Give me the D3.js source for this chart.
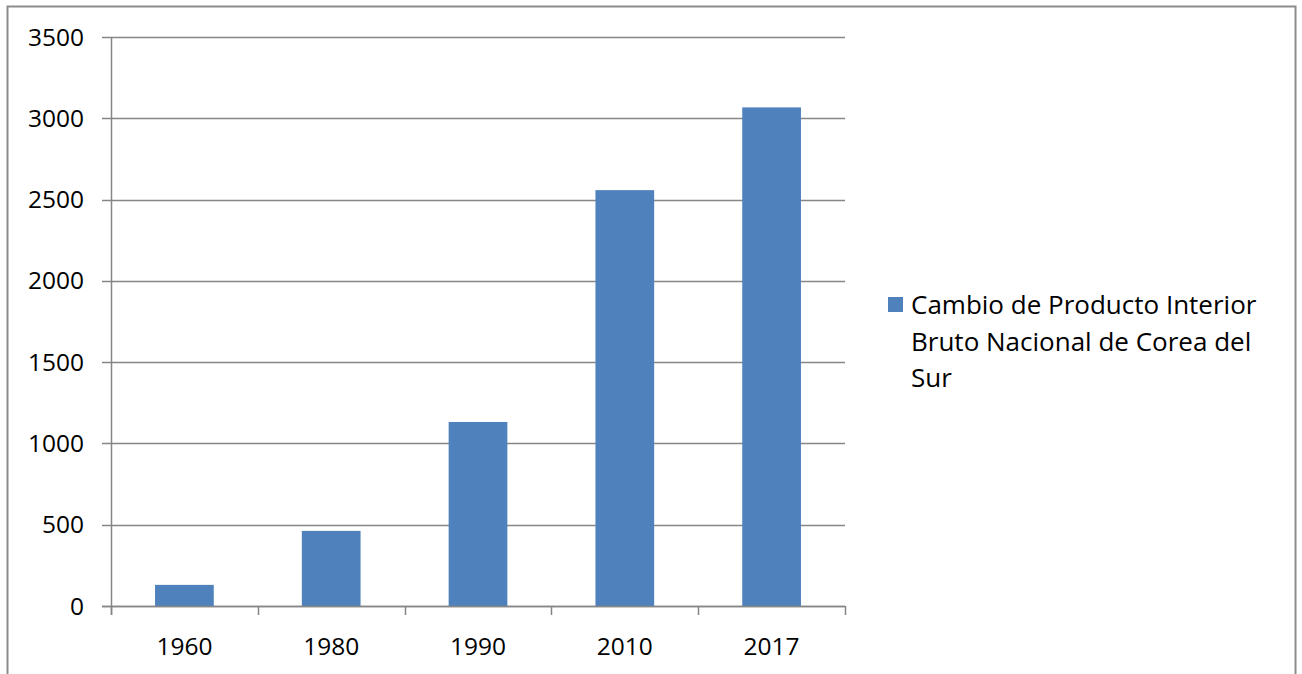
<!DOCTYPE html>
<html>
<head>
<meta charset="utf-8">
<script src="https://cdn.jsdelivr.net/npm/d3@7"></script>
<style>
  body { margin: 0; background: #fff; }
  text { font-family: "Open Sans", "Noto Sans CJK KR", sans-serif; fill: #000; }
</style>
</head>
<body>
<div id="chart"></div>
<script>
// datos
const years = ["1960", "1980", "1990", "2010", "2017"];
const gdp = [130, 462, 1132, 2558, 3067];
const yTicks = [0, 500, 1000, 1500, 2000, 2500, 3000, 3500];
const seriesName = ["Cambio de Producto Interior", "Bruto Nacional de Corea del", "Sur"];

const width = 1302;
const height = 674;

const svg = d3.select("#chart")
              .append("svg")
              .attr("width", width)
              .attr("height", height);

// marco
svg.append("rect")
   .attr("x", 7.5).attr("y", 6.5)
   .attr("width", 1288).attr("height", 700)
   .attr("fill", "none")
   .attr("stroke", "#8c8c8c")
   .attr("stroke-width", 2);

const x = d3.scaleBand()
            .domain(years)
            .range([111, 845])
            .paddingInner(0.6)
            .paddingOuter(0.3);

const y = d3.scaleLinear()
            .domain([0, 3500])
            .range([606, 37]);

// rejilla
svg.append("g")
   .selectAll("line")
   .data(yTicks)
   .join("line")
   .attr("x1", 102).attr("x2", 845)
   .attr("y1", d => Math.round(y(d)) + 0.5)
   .attr("y2", d => Math.round(y(d)) + 0.5)
   .attr("stroke", "#868686")
   .attr("stroke-width", 1.5);

svg.append("g")
   .selectAll("text")
   .data(yTicks)
   .join("text")
   .attr("x", 84)
   .attr("y", d => y(d))
   .attr("dy", "0.35em")
   .attr("text-anchor", "end")
   .attr("font-size", 24.5)
   .text(d => d);

// barras
svg.append("g")
   .attr("fill", "#4F81BD")
   .selectAll("rect")
   .data(gdp)
   .join("rect")
   .attr("x", (d, i) => x(years[i]))
   .attr("y", d => y(d))
   .attr("width", x.bandwidth())
   .attr("height", d => y(0) - y(d));

// ejes
svg.append("line")
   .attr("x1", 111.5).attr("x2", 111.5)
   .attr("y1", 37).attr("y2", 615)
   .attr("stroke", "#868686").attr("stroke-width", 1.5);

svg.append("line")
   .attr("x1", 102).attr("x2", 845)
   .attr("y1", 606.5).attr("y2", 606.5)
   .attr("stroke", "#868686").attr("stroke-width", 1.5);

const step = x.step();
const bounds = years.map((d, i) => 111 + i * step).concat([845]);
svg.append("g")
   .selectAll("line")
   .data(bounds)
   .join("line")
   .attr("x1", d => Math.round(d) + 0.5)
   .attr("x2", d => Math.round(d) + 0.5)
   .attr("y1", 606).attr("y2", 615)
   .attr("stroke", "#868686").attr("stroke-width", 1.5);

svg.append("g")
   .selectAll("text")
   .data(years)
   .join("text")
   .attr("x", d => x(d) + x.bandwidth() / 2)
   .attr("y", 646)
   .attr("dy", "0.35em")
   .attr("text-anchor", "middle")
   .attr("font-size", 24.5)
   .text(d => d);

// leyenda
svg.append("rect")
   .attr("x", 888).attr("y", 297)
   .attr("width", 15).attr("height", 15)
   .attr("fill", "#4F81BD");

svg.append("g")
   .selectAll("text")
   .data(seriesName)
   .join("text")
   .attr("x", 911)
   .attr("y", (d, i) => 305 + i * 36.5)
   .attr("dy", "0.35em")
   .attr("font-size", 26)
   .text(d => d);
</script>
</body>
</html>
